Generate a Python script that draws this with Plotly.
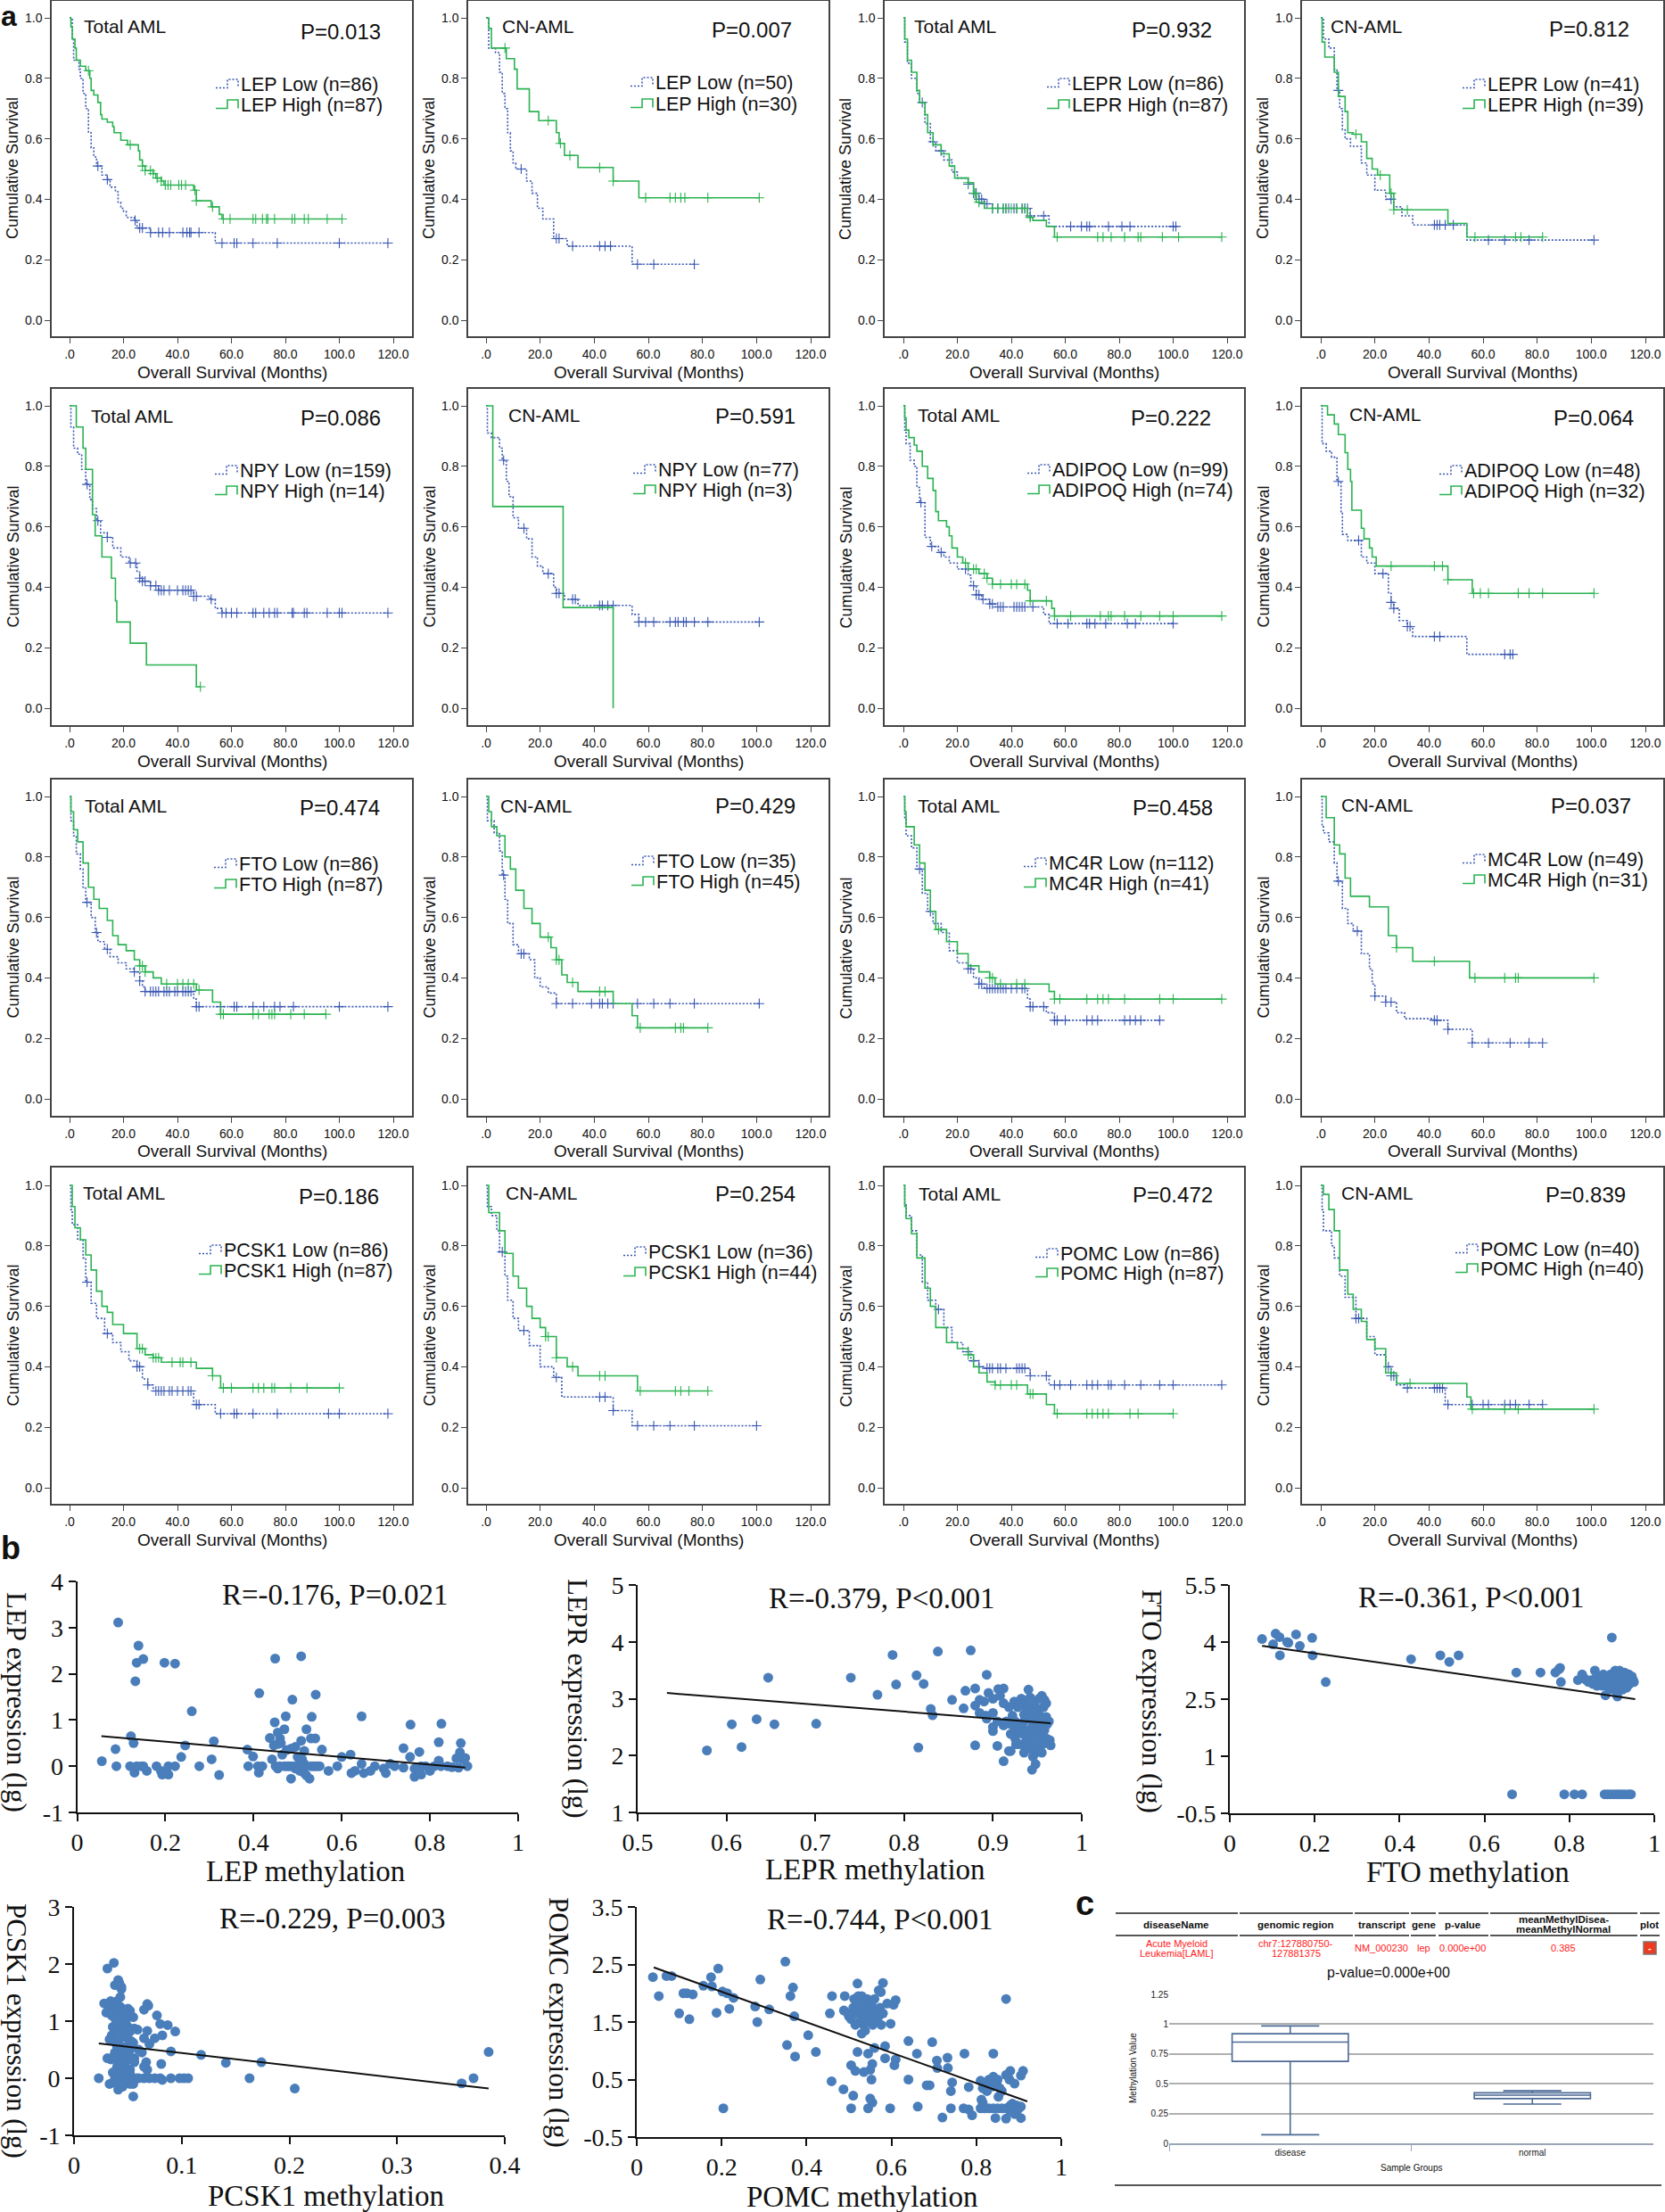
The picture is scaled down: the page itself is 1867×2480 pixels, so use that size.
import plotly.graph_objects as go

W, H = 1867, 2480
LOW_C, HIGH_C = "#3a58b2", "#2bb352"
DOT_C = "#4a7ebb"

# ---------- Kaplan-Meier data: (months, survival) steps and censor times ----------
lep_t_low = [(0,1),(1,.93),(1.5,.86),(3.5,.83),(4,.8),(5,.75),(6,.7),(7,.62),(8,.57),(9,.54),(10,.51),(12,.48),(14,.465),(15,.44),(17,.425),(18,.39),(19,.37),(20,.36),(21,.34),(24,.33),(25,.305),(30,.29),(54,.255)]
lep_t_low_c = [10.5,14,24.3,26,27,30,33,34.5,37,42,43.5,44.5,45,48,56.5,61,62,68,77,100,118]
lep_t_high = [(0,1),(.5,.97),(1,.93),(2,.9),(2.5,.86),(4,.84),(6,.825),(7.5,.8),(8,.76),(9,.745),(10.5,.72),(11.5,.68),(12,.665),(14,.655),(16,.64),(16.5,.62),(19,.595),(21.5,.58),(25.5,.56),(26,.53),(27,.51),(28,.495),(31,.485),(32,.47),(34,.46),(35,.447),(46,.43),(47,.395),(52.5,.375),(55.5,.35),(56.5,.335)]
lep_t_high_c = [7,22.5,27,28,30,31,32.5,34,35.5,36.5,37.5,40.5,41.5,43,46.5,47,53,57,59.5,68,69,71.5,73,73.5,76,82.5,83.5,87,88.5,95.5,101]
lep_c_low = [(0,1),(1,.9),(3.5,.885),(5,.82),(6,.75),(7,.7),(8,.62),(9,.56),(10,.52),(11,.5),(15,.46),(17,.42),(19,.37),(21,.335),(25,.27),(30,.245),(54,.185)]
lep_c_low_c = [13,26,27,32,42,44,46,56,62,77]
lep_c_high = [(0,1),(1,.965),(2,.9),(7.5,.865),(10.5,.83),(11.5,.765),(16,.69),(19.5,.66),(26,.62),(27,.585),(29,.545),(34,.505),(47,.46),(56.5,.405)]
lep_c_high_c = [7,23,27.5,31,42,47,59,68,70,72,73.5,82,101]
lepr_t_low = [(0,1),(.5,.92),(1.5,.85),(3,.8),(5,.75),(6,.72),(8,.65),(10,.59),(12,.56),(15,.53),(18,.49),(20,.47),(24,.45),(26,.42),(28,.4),(30,.385),(33,.37),(47,.345),(54,.31)]
lepr_t_low_c = [7,11,14,24,26,27,28,29,30,31,33,35,37,38,39,41,42,44,45,46,47,52,62,66,68,69,76,81,84,100,101]
lepr_t_high = [(0,1),(.5,.93),(1.5,.86),(3,.82),(5,.76),(6,.72),(8,.68),(9,.62),(11,.58),(14,.55),(17,.51),(19,.47),(24,.455),(26,.42),(27,.39),(30,.37),(46,.34),(48,.33),(53,.31),(56,.275)]
lepr_t_high_c = [24,26.5,28,33,35,37,38,40,42,44,45,47,57,72,74,77,82,87,88,96,102,118]
lepr_c_low = [(0,1),(1,.93),(3,.9),(5,.83),(6,.76),(7,.7),(8,.63),(9,.6),(11,.575),(15,.52),(17,.48),(20,.43),(24,.4),(27,.375),(30,.345),(34,.315),(54,.265)]
lepr_c_low_c = [6.5,26,42,43,44,46,49,62,68,77,101]
lepr_c_high = [(0,1),(.5,.92),(1.5,.87),(5,.82),(6.5,.74),(9,.69),(10,.62),(12,.615),(15,.59),(17,.535),(19,.5),(21,.48),(25.5,.42),(27,.365),(47,.32),(54,.275)]
lepr_c_high_c = [13,22,26,27,32,57,72,74,82]
npy_t_low = [(0,1),(.5,.93),(1.5,.86),(3,.84),(4.5,.79),(6,.74),(7.5,.69),(8.5,.66),(10,.62),(11.5,.58),(14,.565),(16,.53),(19,.5),(22,.48),(25,.45),(26,.43),(27,.42),(30,.405),(33,.39),(46,.37),(52,.36),(54,.33),(56.5,.315)]
npy_t_low_c = [6.5,10.5,14,22.5,24.5,26,27,28,30,32,33,34,35,37,40,42,43,44,45,46,47,52.5,56.5,58,60,62,68,69,72,74,76,77,82.5,83,87,88,95.5,100,101,118]
npy_t_high = [(0,1),(2.5,.93),(5,.86),(6,.79),(8.5,.64),(9.5,.57),(12,.5),(15.5,.43),(17,.355),(17.5,.285),(22.5,.215),(28.5,.143),(47,.071)]
npy_t_high_c = [48.5]
npy_c_low = [(0,1),(.5,.91),(2,.895),(5,.86),(6,.82),(7.5,.75),(8.5,.7),(10,.63),(12,.595),(15,.56),(17,.5),(19,.47),(21,.445),(25,.4),(26,.38),(29,.36),(34,.34),(54,.31),(56.5,.285)]
npy_c_low_c = [6.5,14,23,26,27,32,33,42,43,45,47,56.5,59,62,68,70,71,73,74,77,82,101]
npy_c_high = [(0,1),(2.5,.667),(28.5,.333),(47,0)]
npy_c_high_c = []
adi_t_low = [(0,1),(.5,.92),(1,.875),(2.5,.82),(4,.8),(5,.73),(6,.68),(8,.565),(10,.535),(13,.515),(15,.5),(17,.48),(20,.46),(24,.44),(25,.405),(27,.375),(29,.36),(32,.345),(34,.335),(52,.31),(54,.28)]
adi_t_low_c = [6.5,10.5,14,23,26,27,28,29.5,32,33,35,36,37,41,42,43,44,45,48,57,61,68,69,71,75,83,86,100]
adi_t_high = [(0,1),(.5,.96),(1,.92),(2,.895),(4,.87),(5,.85),(7,.8),(9,.76),(11,.72),(12,.65),(13,.62),(16,.6),(17,.57),(18,.53),(20,.5),(22,.48),(24,.46),(28,.445),(31,.43),(33,.41),(46,.39),(47,.355),(55,.33),(56,.305)]
adi_t_high_c = [23,26,27,30,31,33,36,40,42,45,47,53,56,62,73,76,77,82,88,95,100,118]
adi_c_low = [(0,1),(.5,.875),(2,.85),(4,.83),(6,.75),(7.5,.65),(8,.575),(10,.555),(15,.5),(17,.48),(20,.445),(25,.38),(26,.35),(27,.33),(29,.29),(32,.27),(34,.237),(54,.178)]
adi_c_low_c = [6.5,14,23,26,27,32,33,42,44,68,70,71]
adi_c_high = [(0,1),(2.5,.97),(5,.94),(6.5,.905),(9,.845),(10,.79),(11,.75),(11.5,.655),(15,.595),(16,.56),(18,.53),(19,.5),(20.5,.47),(47,.425),(56,.38)]
adi_c_high_c = [26,42,45,47,56.5,59,62,73,77,82,101]
fto_t_low = [(0,1),(.5,.92),(1.5,.87),(2.5,.81),(4,.76),(5,.7),(6,.65),(8,.6),(9.5,.55),(10.5,.52),(13,.495),(15,.47),(18,.45),(21,.43),(24,.42),(26,.39),(27,.37),(28,.355),(46,.33),(47,.305)]
fto_t_low_c = [6.5,10,14,24,26,28,30,31,32,33,35,36,37,39,40,42,43,44,45,47,48,56,61,62,68,72,76,78,83,100,118]
fto_t_high = [(0,1),(.5,.95),(1.5,.89),(3,.85),(5,.78),(7,.7),(9,.66),(11,.63),(14,.59),(16,.54),(18,.51),(21,.49),(24,.46),(26,.44),(28,.42),(31,.4),(34,.38),(47,.36),(53,.32),(56,.28)]
fto_t_high_c = [26,27,28,36,40,42,44,46,48,56,57,68,70,74,75,76,82,87,95]
fto_c_low = [(0,1),(.5,.92),(3,.88),(5,.82),(6,.74),(7,.66),(8,.58),(10,.51),(12,.48),(16,.46),(18,.4),(20,.37),(23,.35),(26,.315)]
fto_c_low_c = [6.5,13,14,26,32,39,42,43,45,47,56,62,68,77,101]
fto_c_high = [(0,1),(1,.95),(2,.9),(4,.87),(7,.8),(9,.76),(11,.69),(14,.63),(17,.58),(20,.535),(24,.5),(26,.46),(28,.41),(30,.385),(34,.355),(47,.315),(54,.275),(56,.235)]
fto_c_high_c = [23,26,27,32,42,44,57,70,72,73,82]
mc4_t_low = [(0,1),(.5,.93),(1,.87),(3,.83),(5,.76),(7,.68),(9,.62),(11,.58),(14,.55),(17,.49),(20,.45),(24,.43),(26,.4),(28,.38),(30,.365),(46,.33),(47,.305),(53,.285),(56,.26)]
mc4_t_low_c = [6,10,24,25,28,29,31,32,33,34,35,36,37,38,40,42,44,45,47,48,52,56,57,60,68,70,72,82,84,86,88,95]
mc4_t_high = [(0,1),(.5,.95),(1,.9),(4,.84),(6,.78),(8,.69),(10,.62),(12,.56),(16,.52),(20,.48),(24,.44),(28,.42),(32,.4),(34,.38),(54,.355),(56,.33)]
mc4_t_high_c = [13,32,33,36,42,45,56,58,68,72,74,76,82,95,100,118]
mc4_c_low = [(0,1),(.5,.9),(1,.88),(3,.85),(5,.78),(6,.72),(8,.63),(10,.58),(12,.555),(15,.48),(18,.43),(19,.38),(20,.34),(24,.32),(28,.285),(31,.265),(42,.26),(47,.23),(56,.185)]
mc4_c_low_c = [6.5,13.5,20,24,26,42,43,47,56,62,70,77,82]
mc4_c_high = [(0,1),(2,.93),(5,.84),(7,.81),(9,.73),(11,.67),(18,.635),(25,.54),(28,.5),(34,.455),(55,.4)]
mc4_c_high_c = [28,42,57,68,72,73,101]
pcs_t_low = [(0,1),(.5,.92),(1,.87),(3,.82),(5,.76),(6,.68),(8,.61),(10,.56),(13,.51),(16,.48),(19,.45),(22,.42),(25,.4),(27,.36),(29,.34),(31,.32),(46,.275),(54,.245)]
pcs_t_low_c = [6.5,14,25,26,29,32,33,34,35,37,38,40,42,44,45,47,48,56,61,62,68,77,96,100,118]
pcs_t_high = [(0,1),(1,.93),(2,.86),(4,.82),(6,.77),(8,.72),(10,.65),(12,.6),(14,.58),(16,.54),(20,.51),(25,.46),(28,.44),(31,.43),(34,.415),(47,.395),(53,.37),(56,.33)]
pcs_t_high_c = [26,27,31,32,33,38,41,42,45,53,57,60,68,70,72,75,76,82,88,100]
pcs_c_low = [(0,1),(.5,.93),(2,.9),(4,.85),(5,.78),(7,.7),(8,.62),(10,.56),(12,.52),(16,.47),(20,.4),(25,.365),(28,.3),(47,.255),(54,.205)]
pcs_c_low_c = [6,14,26,42,44,47,56,62,68,77,100]
pcs_c_high = [(0,1),(1,.91),(5,.85),(7,.775),(10,.7),(12,.66),(15,.6),(17,.56),(20,.53),(22,.5),(26,.43),(30,.4),(34,.37),(56,.32)]
pcs_c_high_c = [22,23,26,32,42,44,57,70,72,75,82]
pom_t_low = [(0,1),(.5,.94),(1,.9),(3,.85),(5,.77),(7,.68),(9,.62),(12,.59),(15,.53),(18,.48),(22,.45),(25,.42),(28,.4),(30,.395),(47,.37),(54,.34)]
pom_t_low_c = [13,24,26,28,31,32,33,35,36,38,42,43,44,45,47,53,56,58,62,68,70,72,76,77,82,88,95,100,118]
pom_t_high = [(0,1),(.5,.93),(1,.89),(3,.84),(5,.76),(8,.66),(10,.6),(12,.53),(16,.48),(20,.46),(24,.44),(26,.4),(28,.38),(31,.35),(34,.34),(46,.31),(53,.275),(56,.245)]
pom_t_high_c = [24,34,36,40,42,47,48,57,68,70,72,74,76,84,87,100]
pom_c_low = [(0,1),(.5,.92),(1,.85),(4,.8),(5,.76),(7,.7),(9,.63),(13,.56),(17,.5),(20,.44),(24,.4),(26,.37),(28,.34),(31,.33),(46,.275)]
pom_c_low_c = [13,14,25,26,27,32,42,43,44,45,47,56,60,62,68,70,72,77,82]
pom_c_high = [(0,1),(1,.97),(3,.92),(5,.85),(7,.72),(10,.64),(12,.59),(15,.55),(17,.49),(20,.46),(24,.38),(28,.345),(54,.3),(55.5,.26)]
pom_c_high_c = [26,33,56,68,73,101]

GRP_T, GRP_C = "Total AML", "CN-AML"
# row, col, group, p text, low legend, high legend, low curve, low censors, high curve, high censors,
# label left/y, p left/y, legend left/y1/y2
KM = [
 (0,0,GRP_T,"P=0.013","LEP Low (n=86)","LEP High (n=87)",lep_t_low,lep_t_low_c,lep_t_high,lep_t_high_c,(94,29),(337,35),(270,95,118)),
 (0,1,GRP_C,"P=0.007","LEP Low (n=50)","LEP High (n=30)",lep_c_low,lep_c_low_c,lep_c_high,lep_c_high_c,(563,30),(798,33),(735,93,117)),
 (0,2,GRP_T,"P=0.932","LEPR Low (n=86)","LEPR High (n=87)",lepr_t_low,lepr_t_low_c,lepr_t_high,lepr_t_high_c,(1025,30),(1269,33),(1202,94,118)),
 (0,3,GRP_C,"P=0.812","LEPR Low (n=41)","LEPR High (n=39)",lepr_c_low,lepr_c_low_c,lepr_c_high,lepr_c_high_c,(1668-176,30),(1737,32),(1668,95,118)),
 (1,0,GRP_T,"P=0.086","NPY Low (n=159)","NPY High (n=14)",npy_t_low,npy_t_low_c,npy_t_high,npy_t_high_c,(102,467),(337,469),(269,528,551)),
 (1,1,GRP_C,"P=0.591","NPY Low (n=77)","NPY High (n=3)",npy_c_low,npy_c_low_c,npy_c_high,npy_c_high_c,(570,465),(802,467),(738,527,550)),
 (1,2,GRP_T,"P=0.222","ADIPOQ Low (n=99)","ADIPOQ High (n=74)",adi_t_low,adi_t_low_c,adi_t_high,adi_t_high_c,(1029,465),(1268,468),(1180,527,550)),
 (1,3,GRP_C,"P=0.064","ADIPOQ Low (n=48)","ADIPOQ High (n=32)",adi_c_low,adi_c_low_c,adi_c_high,adi_c_high_c,(1513,464),(1742,468),(1642,528,551)),
 (2,0,GRP_T,"P=0.474","FTO Low (n=86)","FTO High (n=87)",fto_t_low,fto_t_low_c,fto_t_high,fto_t_high_c,(95,903),(336,906),(268,969,992)),
 (2,1,GRP_C,"P=0.429","FTO Low (n=35)","FTO High (n=45)",fto_c_low,fto_c_low_c,fto_c_high,fto_c_high_c,(561,903),(802,903),(736,966,989)),
 (2,2,GRP_T,"P=0.458","MC4R Low (n=112)","MC4R High (n=41)",mc4_t_low,mc4_t_low_c,mc4_t_high,mc4_t_high_c,(1029,903),(1270,906),(1176,968,991)),
 (2,3,GRP_C,"P=0.037","MC4R Low (n=49)","MC4R High (n=31)",mc4_c_low,mc4_c_low_c,mc4_c_high,mc4_c_high_c,(1504,902),(1739,903),(1668,964,987)),
 (3,0,GRP_T,"P=0.186","PCSK1 Low (n=86)","PCSK1 High (n=87)",pcs_t_low,pcs_t_low_c,pcs_t_high,pcs_t_high_c,(93,1337),(335,1341),(251,1402,1425)),
 (3,1,GRP_C,"P=0.254","PCSK1 Low (n=36)","PCSK1 High (n=44)",pcs_c_low,pcs_c_low_c,pcs_c_high,pcs_c_high_c,(567,1337),(802,1338),(727,1404,1427)),
 (3,2,GRP_T,"P=0.472","POMC Low (n=86)","POMC High (n=87)",pom_t_low,pom_t_low_c,pom_t_high,pom_t_high_c,(1030,1338),(1270,1339),(1189,1406,1428)),
 (3,3,GRP_C,"P=0.839","POMC Low (n=40)","POMC High (n=40)",pom_c_low,pom_c_low_c,pom_c_high,pom_c_high_c,(1504,1337),(1733,1339),(1660,1401,1423)),
]
COL_BOX = [(58,462),(525,929),(992,1395),(1460,1865)]
COL_X = [(78,441),(545,909),(1013,1376),(1481,1845)]
ROW_BOX = [(1,377),(436,813),(874,1251),(1309,1686)]
ROW_Y = [(20,359),(455,794),(893,1232),(1329,1668)]
KM_X_TICKS = [0,20,40,60,80,100,120]
KM_X_TEXT = [".0","20.0","40.0","60.0","80.0","100.0","120.0"]
KM_Y_TICKS = [0,.2,.4,.6,.8,1]
KM_Y_TEXT = ["0.0","0.2","0.4","0.6","0.8","1.0"]

# ---------- Methylation scatter data (methylation, lg expression) ----------
lep_pts = [(.093,3.11),(.139,2.61),(.15,2.32),(.135,2.24),(.198,2.24),(.222,2.22),(.132,1.84),(.26,1.19),(.122,.65),(.128,.5),(.087,.37),(.056,.11),(.089,0),(.12,0),(.13,-.14),(.135,0),(.15,0),(.158,-.1),(.145,0),(.18,0),(.19,-.1),(.193,-.18),(.207,-.18),(.207,0),(.222,0),(.236,.2),(.245,.45),(.277,0),(.305,.15),(.31,.54),(.322,-.19),
 (.386,.36),(.388,0),(.399,.21),(.41,0),(.412,-.14),(.42,0),(.442,.15),(.437,.61),(.448,.95),(.446,.45),(.449,2.33),(.508,2.38),(.413,1.58),(.488,1.44),(.541,1.55),(.473,1.08),(.532,1.07),(.645,1.08),(.756,.9),(.826,.92),(.82,.52),(.87,.5),(.455,.73),(.47,.8),(.46,.6),(.462,.5),(.455,.48),(.52,.8),(.508,.55),(.53,.6),(.54,.6),(.555,.36),(.74,.39),(.776,.31),(.868,.3),(.755,.2),(.62,.25),(.6,.2),(.465,.25),(.475,.35),(.485,.38),(.495,.42),(.515,.33),(.5,.2),(.51,.15),(.505,.1),(.515,.05),
 (.45,0),(.455,-.05),(.46,0),(.47,0),(.475,0),(.48,0),(.485,0),(.49,0),(.495,-.05),(.5,0),(.505,-.1),(.51,0),(.515,0),(.52,-.2),(.53,0),(.535,0),(.54,0),(.545,0),(.55,0),(.485,-.27),(.527,-.27),(.515,-.15),(.57,-.1),(.59,0),(.622,-.15),(.63,-.1),(.645,.05),(.65,-.15),(.665,-.1),(.675,0),(.695,-.05),(.7,-.15),(.71,.05),(.72,0),(.74,-.03),(.765,-.23),(.77,-.1),(.78,-.18),(.79,0),(.8,-.1),(.81,0),(.82,.12),(.825,0),(.84,0),(.85,-.02),(.86,.17),(.87,.22),(.875,.15),(.88,.18),(.885,0),(.865,-.03),(.765,-.05),(.78,0)]
lepr_pts = [(.578,2.09),(.606,2.55),(.617,2.15),(.634,2.64),(.647,3.37),(.654,2.55),(.701,2.56),(.74,3.37),(.77,3.07),(.787,3.77),(.791,3.25),(.814,3.41),(.822,3.26),(.816,2.14),(.83,2.82),(.832,2.71),(.838,3.83),(.875,3.85),(.854,2.98),(.867,2.83),(.869,3.14),(.893,3.42),(.88,3.18),(.88,2.18),(.88,2.88),(.885,2.98),(.89,2.95),(.895,3.1),(.885,2.75),(.892,2.7),(.9,2.75),(.893,2.65),(.9,3.0),(.906,3.17),(.912,3.18),(.908,3.05),(.912,2.92),(.905,2.17),(.9,2.5),(.9,2.43),(.912,2.53),(.905,2.6),(.918,2.85),(.92,2.38),(.925,2.3),(.918,2.08),(.912,1.9),(.924,2.95),(.93,2.2),(.935,2.05),
 (.925,2.6),(.928,2.85),(.93,2.95),(.932,3.0),(.935,2.9),(.938,2.8),(.94,3.16),(.942,3.02),(.945,2.95),(.948,2.85),(.95,2.75),(.952,3.0),(.955,3.05),(.958,2.98),(.96,2.92),(.945,2.7),(.94,2.65),(.935,2.6),(.93,2.55),(.925,2.48),(.928,2.42),(.932,2.5),(.936,2.45),(.94,2.4),(.944,2.5),(.948,2.6),(.952,2.55),(.956,2.62),(.96,2.68),(.963,2.6),(.961,2.55),(.958,2.45),(.954,2.4),(.95,2.35),(.946,2.3),(.942,2.25),(.938,2.3),(.934,2.2),(.926,2.2),(.92,2.55),(.922,2.7),(.915,2.6),(.935,2.72),(.941,2.82),(.947,2.78),(.953,2.7),(.957,2.85),(.944,2.92),(.938,2.95),(.934,2.38),(.942,2.35),(.948,2.42),(.952,2.28),(.956,2.2),(.96,2.3),(.964,2.27),(.965,2.18),(.955,2.05),(.948,2.05),(.945,1.98),(.942,2.12),(.948,1.85),(.944,1.75),(.95,2.15),(.92,2.08)]
fto_pts = [(.076,4.08),(.102,3.94),(.108,4.22),(.117,4.13),(.118,3.65),(.135,4.0),(.138,3.98),(.156,4.2),(.165,3.9),(.194,4.11),(.195,3.65),(.226,2.95),(.427,3.55),(.496,3.65),(.517,3.48),(.539,3.65),(.675,3.2),(.732,3.2),(.767,3.2),(.775,3.28),(.778,3.32),(.78,2.95),(.9,4.12),
 (.82,3.0),(.83,3.15),(.835,3.05),(.84,3.0),(.845,2.95),(.85,3.0),(.855,2.9),(.86,3.25),(.862,3.05),(.865,2.85),(.868,3.0),(.872,3.1),(.875,2.95),(.878,2.85),(.88,3.15),(.883,3.0),(.885,2.6),(.887,2.9),(.89,3.05),(.892,2.8),(.895,3.0),(.897,3.15),(.9,2.9),(.902,2.75),(.905,3.05),(.908,3.25),(.91,2.95),(.912,2.8),(.913,2.57),(.915,3.1),(.918,3.25),(.92,3.0),(.922,2.85),(.925,2.75),(.927,3.1),(.93,3.2),(.932,2.95),(.935,2.8),(.938,3.05),(.94,3.15),(.942,2.9),(.945,3.0),(.947,3.1),(.95,3.0),(.952,2.95),
 (.665,0),(.788,0),(.812,0),(.83,0),(.883,0),(.89,0),(.897,0),(.905,0),(.912,0),(.918,0),(.925,0),(.932,0),(.94,0),(.945,0)]
pcs_pts = [(.023,0),(.031,1.92),(.037,2.02),(.041,1.72),(.042,1.67),(.038,1.63),(.044,1.6),(.044,1.56),(.043,1.42),(.065,1.2),(.068,1.3),(.069,1.27),(.077,1.1),(.08,.95),(.087,.93),(.094,.82),(.082,.75),(.075,.7),(.068,.83),(.065,.7),(.07,.6),(.09,.47),(.118,.41),(.141,.27),(.174,.28),(.163,0),(.205,-.18),(.36,-.09),(.371,0),(.385,.46),(.055,-.32),(.08,0),(.082,-.03),(.075,0),(.09,0),(.098,0),(.102,0),(.106,0),(.07,0),(.065,0),(.06,0),(.081,.25),(.067,.28),(.065,.2),(.068,.15),
 (.028,1.31),(.031,1.3),(.034,1.35),(.037,1.33),(.04,1.35),(.03,1.15),(.033,1.2),(.036,1.25),(.04,1.2),(.043,1.25),(.046,1.2),(.05,1.22),(.052,1.18),(.035,1.1),(.038,1.05),(.042,1.1),(.045,1.05),(.048,1.1),(.055,1.07),(.04,1.0),(.044,.95),(.048,.98),(.05,.9),(.036,.9),(.038,.85),(.042,.82),(.046,.85),(.052,.82),(.056,.87),(.059,.85),(.035,.75),(.039,.78),(.033,.68),(.037,.65),(.041,.62),(.046,.72),(.05,.7),(.053,.65),(.055,.62),(.04,.55),(.044,.5),(.048,.55),(.052,.5),(.038,.45),(.042,.42),(.046,.45),(.05,.42),(.06,.5),(.063,.45),(.031,.35),(.034,.33),(.037,.38),(.04,.3),(.044,.35),(.048,.3),(.052,.33),(.056,.35),(.04,.2),(.044,.22),(.048,.18),(.052,.15),(.056,.28),(.036,.1),(.04,.08),(.044,.1),(.048,.05),(.052,.08),(.038,0),(.042,.02),(.046,0),(.05,0),(.054,0),(.058,0),(.033,-.1),(.036,-.08),(.04,-.05),(.044,-.1),(.048,-.05),(.052,-.1),(.055,-.1),(.041,-.2),(.045,-.15),(.05,-.03)]
pom_pts = [(.038,2.28),(.052,1.95),(.07,2.3),(.082,2.3),(.1,1.65),(.11,2.0),(.118,2.0),(.124,1.55),(.132,1.98),(.157,2.13),(.175,2.28),(.177,2.12),(.192,2.43),(.188,1.66),(.202,2.03),(.213,2.0),(.218,1.73),(.228,1.92),(.204,0),(.279,1.77),(.284,1.5),(.291,2.24),(.312,1.72),(.35,2.55),(.362,1.95),(.368,2.1),(.371,1.6),(.354,1.1),(.373,.9),(.404,1.27),(.422,.98),(.455,1.65),(.46,1.95),(.459,.47),(.487,.33),(.49,1.95),(.488,1.7),(.497,1.65),(.505,.75),(.51,.22),(.505,0),(.515,.65),(.52,.98),(.52,2.17),(.58,2.18),(.57,2.05),
 (.5,1.6),(.505,1.55),(.51,1.75),(.512,1.9),(.515,1.45),(.518,1.65),(.52,1.85),(.522,1.95),(.525,1.5),(.528,1.7),(.53,1.95),(.532,1.6),(.534,1.45),(.536,1.8),(.53,1.3),(.538,1.35),(.54,1.55),(.543,1.9),(.545,1.7),(.548,1.5),(.55,1.65),(.553,1.8),(.556,1.45),(.558,1.55),(.56,1.9),(.563,1.7),(.566,1.5),(.57,1.6),(.573,1.75),(.576,1.45),(.58,1.65),(.59,1.82),(.605,1.8),(.61,1.88),(.598,1.47),(.575,2.02),
 (.585,1.08),(.56,1.05),(.545,.95),(.585,.87),(.61,.85),(.607,.75),(.555,.77),(.55,.67),(.535,.63),(.553,.5),(.55,.17),(.555,.1),(.545,0),(.597,0),(.64,1.17),(.66,.95),(.696,1.15),(.64,.5),(.662,.03),(.683,.4),(.69,.4),(.707,.83),(.708,.7),(.732,.88),(.733,.7),(.743,.45),(.74,.3),(.74,0),(.72,-.16),(.77,0),(.782,-.02),(.79,-.12),(.772,.95),(.84,.95),(.782,.37),(.87,1.9),
 (.81,.48),(.815,.35),(.82,.4),(.825,.3),(.83,.5),(.835,.45),(.84,.55),(.845,.4),(.85,.5),(.855,.35),(.86,.3),(.822,.42),(.838,.38),(.848,.45),(.852,.2),(.815,.1),(.812,.15),(.81,0),(.82,0),(.83,0),(.84,0),(.85,0),(.86,0),(.87,0),(.875,0),(.88,.05),(.885,.08),(.89,0),(.895,-.05),(.9,0),(.905,.03),(.88,-.05),(.89,-.1),(.895,.05),
 (.87,.58),(.88,.65),(.89,.43),(.878,.5),(.905,.57),(.91,.65),(.845,-.17),(.87,-.18),(.905,-.17)]
# points, trend line, x ticks, y ticks, axes px box (x at low, x at high, y at high, y at low), texts
SCAT = [
 (lep_pts,[(.055,.65),(.88,-.03)],[0,.2,.4,.6,.8,1],[-1,0,1,2,3,4],(86.5,581,1773,2032),"R=-0.176, P=0.021",(249,1788),"LEP methylation",(342,2098),"LEP expression (lg)",(19,1908)),
 (lepr_pts,[(.533,3.1),(.965,2.57)],[.5,.6,.7,.8,.9,1],[1,2,3,4,5],(715,1213,1777,2032),"R=-0.379, P<0.001",(862,1792),"LEPR methylation",(981,2096),"LEPR expression (lg)",(648,1904)),
 (fto_pts,[(.076,3.9),(.955,2.5)],[0,.2,.4,.6,.8,1],[-.5,1,2.5,4,5.5],(1379,1855,1777,2033),"R=-0.361, P<0.001",(1523,1791),"FTO methylation",(1646,2099),"FTO expression (lg)",(1292,1907)),
 (pcs_pts,[(.023,.61),(.385,-.18)],[0,.1,.2,.3,.4],[-1,0,1,2,3],(83,566,2138,2394),"R=-0.229, P=0.003",(246,2151),"PCSK1 methylation",(365,2462),"PCSK1 expression (lg)",(19,2277)),
 (pom_pts,[(.04,2.45),(.92,.12)],[0,.2,.4,.6,.8,1],[-.5,.5,1.5,2.5,3.5],(714,1190,2138,2396),"R=-0.744, P<0.001",(860,2152),"POMC methylation",(967,2463),"POMC expression (lg)",(627,2267)),
]

# ---------- Panel c ----------
box_groups = ["disease","normal"]
box_q1 = [.688,.375]
box_median = [.85,.404]
box_q3 = [.92,.424]
box_low = [.072,.329]
box_high = [.985,.441]
box_y_ticks = [0,.25,.5,.75,1,1.25]
box_y_text = ["0","0.25","0.5","0.75","1","1.25"]
tab_headers = [("diseaseName",),("genomic region",),("transcript",),("gene",),("p-value",),("meanMethylDisea-","meanMethylNormal"),("plot",)]
tab_values = [("Acute Myeloid","Leukemia[LAML]"),("chr7:127880750-","127881375"),("NM_000230",),("lep",),("0.000e+00",),("0.385",)]
tab_centers = [1319,1453,1549,1596,1640,1753,1849]
tab_segments = [(1251,1388),(1390,1517),(1519,1580),(1582,1610),(1613,1669),(1671,1836),(1839,1861)]

SANS, SERIF = "Liberation Sans", "Liberation Serif"
fig = go.Figure()
layout_axes, annos, shapes = {}, [], []
px = lambda v: v / W
py = lambda v: 1 - v / H

def text(t, x, y, size, font=SANS, color="#111", xa="left", ya="middle", angle=0, bold=False):
    annos.append(dict(text=f"<b>{t}</b>" if bold else t, x=px(x), y=py(y), xref="paper", yref="paper",
                      showarrow=False, xanchor=xa, yanchor=ya, textangle=angle,
                      font=dict(family=font, size=size, color=color), borderpad=0, borderwidth=0))

n_axis = [0]
def axes(xbox, ybox, xrange, yrange, xkw, ykw):
    n_axis[0] += 1
    i = n_axis[0]
    xn, yn = ("xaxis", "yaxis") if i == 1 else (f"xaxis{i}", f"yaxis{i}")
    layout_axes[xn] = dict(domain=[px(xbox[0]), px(xbox[1])], range=xrange, anchor="y" if i == 1 else f"y{i}", zeroline=False, showgrid=False, **xkw)
    layout_axes[yn] = dict(domain=[py(ybox[1]), py(ybox[0])], range=yrange, anchor="x" if i == 1 else f"x{i}", zeroline=False, showgrid=False, **ykw)
    return ("x", "y") if i == 1 else (f"x{i}", f"y{i}")

def surv_at(curve, t):
    s = curve[0][1]
    for ct, cs in curve:
        if ct <= t:
            s = cs
    return s

def km_curve(curve, cens, color, dash, xa, ya):
    end = max([curve[-1][0]] + list(cens))
    xs = [c[0] for c in curve] + [end]
    ys = [c[1] for c in curve] + [curve[-1][1]]
    fig.add_trace(go.Scatter(x=xs, y=ys, mode="lines", line=dict(color=color, width=1.6, shape="hv", dash=dash),
                             xaxis=xa, yaxis=ya, showlegend=False))
    if cens:
        fig.add_trace(go.Scatter(x=cens, y=[surv_at(curve, t) for t in cens], mode="markers",
                                 marker=dict(symbol="cross-thin", size=8, line=dict(color=color, width=1.1)),
                                 xaxis=xa, yaxis=ya, showlegend=False))

def glyph(left, yc, color, dash):
    pts = [(left-28, yc+3.5), (left-15, yc+3.5), (left-15, yc-6), (left-3, yc-6), (left-3, yc+3.5)]
    path = "M " + " L ".join(f"{px(a):.5f},{py(b):.5f}" for a, b in pts)
    shapes.append(dict(type="path", path=path, xref="paper", yref="paper", line=dict(color=color, width=1.6, dash=dash)))

for r, c, grp, ptxt, lowl, highl, low, low_c, high, high_c, lab, pp, leg in KM:
    bx, by, x0x, y0y = COL_BOX[c], ROW_BOX[r], COL_X[c], ROW_Y[r]
    xs = 120 / (x0x[1] - x0x[0])
    ys = 1 / (y0y[1] - y0y[0])
    xr = [(bx[0]-x0x[0])*xs, (bx[1]-x0x[0])*xs]
    yr = [(y0y[1]-by[1])*ys, (y0y[1]-by[0])*ys]
    common = dict(showline=True, mirror=True, linecolor="#444", linewidth=1.5, ticks="outside", ticklen=6, tickwidth=1.3, tickcolor="#444",
                  tickfont=dict(family=SANS, size=14, color="#111"), tickmode="array")
    xa, ya = axes(bx, by, xr, yr, dict(tickvals=KM_X_TICKS, ticktext=KM_X_TEXT, **common), dict(tickvals=KM_Y_TICKS, ticktext=KM_Y_TEXT, **common))
    km_curve(low, low_c, LOW_C, "2px,2px", xa, ya)
    km_curve(high, high_c, HIGH_C, "solid", xa, ya)
    text(grp, lab[0], lab[1], 21)
    text(ptxt, pp[0], pp[1], 24)
    text(lowl, leg[0], leg[1], 21.5)
    text(highl, leg[0], leg[2], 21.5)
    glyph(leg[0], leg[1], LOW_C, "2px,2px")
    glyph(leg[0], leg[2], HIGH_C, "solid")
    text("Overall Survival (Months)", (bx[0]+bx[1])/2, by[1]+40, 19, xa="center")
    text("Cumulative Survival", bx[0]-44, (by[0]+by[1])/2, 18, xa="center", angle=-90)

for pts, trend, xt, yt, box, rtxt, rpos, xtitle, xpos, ytitle, ypos in SCAT:
    common = dict(showline=True, linecolor="#111", linewidth=1.6, ticks="outside", ticklen=8, tickwidth=1.5, tickcolor="#111",
                  tickfont=dict(family=SERIF, size=28, color="#111"), tickmode="array")
    xa, ya = axes((box[0], box[1]), (box[2], box[3]), [xt[0], xt[-1]], [yt[0], yt[-1]],
                  dict(tickvals=xt, ticktext=[f"{v:g}" for v in xt], **common),
                  dict(tickvals=yt, ticktext=[f"{v:g}" for v in yt], **common))
    fig.add_trace(go.Scatter(x=[p[0] for p in pts], y=[p[1] for p in pts], mode="markers",
                             marker=dict(color=DOT_C, size=11, line=dict(width=0)), xaxis=xa, yaxis=ya, showlegend=False, cliponaxis=False))
    fig.add_trace(go.Scatter(x=[p[0] for p in trend], y=[p[1] for p in trend], mode="lines",
                             line=dict(color="#111", width=2), xaxis=xa, yaxis=ya, showlegend=False))
    text(rtxt, rpos[0], rpos[1], 33, font=SERIF)
    text(xtitle, xpos[0], xpos[1], 33, font=SERIF, xa="center")
    text(ytitle, ypos[0], ypos[1], 31, font=SERIF, xa="center", angle=90)

# panel c
xa, ya = axes((1311, 1854), (2236, 2403), [-.5, 1.5], [0, 1.25],
              dict(type="category", categoryorder="array", categoryarray=box_groups, tickson="boundaries", showline=True, linecolor="#9aa5b5", linewidth=1.5,
                   ticks="outside", ticklen=7, tickcolor="#9aa5b5", tickfont=dict(family=SANS, size=10, color="#222")),
              dict(tickmode="array", tickvals=box_y_ticks, ticktext=box_y_text, tickfont=dict(family=SANS, size=10, color="#222"), ticklen=0))
layout_axes["yaxis" + xa[1:]]["showgrid"] = True
layout_axes["yaxis" + xa[1:]]["gridcolor"] = "#b0b0b0"
layout_axes["yaxis" + xa[1:]]["gridwidth"] = 1.5
fig.add_trace(go.Box(x=box_groups, q1=box_q1, median=box_median, q3=box_q3, lowerfence=box_low, upperfence=box_high,
                     width=.48, whiskerwidth=.5, fillcolor="rgba(255,255,255,1)", line=dict(color="#4d6a96", width=1.6),
                     boxpoints=False, xaxis=xa, yaxis=ya, showlegend=False))
for a, b in tab_segments:
    for yy in (2145, 2170):
        shapes.append(dict(type="line", xref="paper", yref="paper", x0=px(a), x1=px(b), y0=py(yy), y1=py(yy), line=dict(color="#555", width=2)))
shapes.append(dict(type="line", xref="paper", yref="paper", x0=px(1250), x1=px(1863), y0=py(2450), y1=py(2450), line=dict(color="#555", width=2)))
for lines, cx in zip(tab_headers, tab_centers):
    if len(lines) == 1:
        text(lines[0], cx, 2158, 11.5, xa="center", bold=True)
    else:
        text(lines[0], cx, 2152, 11.5, xa="center", bold=True)
        text(lines[1], cx, 2163, 11.5, xa="center", bold=True)
for lines, cx in zip(tab_values, tab_centers):
    if len(lines) == 1:
        text(lines[0], cx, 2184, 11, xa="center", color="#ff2020")
    else:
        text(lines[0], cx, 2179, 11, xa="center", color="#ff2020")
        text(lines[1], cx, 2190, 11, xa="center", color="#ff2020")
shapes.append(dict(type="rect", xref="paper", yref="paper", x0=px(1843), x1=px(1857), y0=py(2191), y1=py(2177), fillcolor="#f03a20", line=dict(color="#777", width=1.5)))
text("-", 1850, 2184, 11, xa="center", color="#fff", bold=True)
text("p-value=0.000e+00", 1557, 2211, 16, xa="center")
text("Sample Groups", 1582, 2430, 10, xa="center")
text("Methylation Value", 1270, 2319, 10, xa="center", angle=-90)

text("a", 1, 18, 32, bold=True)
text("b", 1, 1735, 36, bold=True)
text("c", 1206, 2134, 38, bold=True)

fig.update_layout(width=W, height=H, margin=dict(l=0, r=0, t=0, b=0, pad=0, autoexpand=False), paper_bgcolor="white", plot_bgcolor="white",
                  showlegend=False, annotations=annos, shapes=shapes, **layout_axes)
fig.write_html("out.html", config=dict(displayModeBar=False), post_script="document.body.style.margin='0';document.documentElement.style.overflow='hidden';")
